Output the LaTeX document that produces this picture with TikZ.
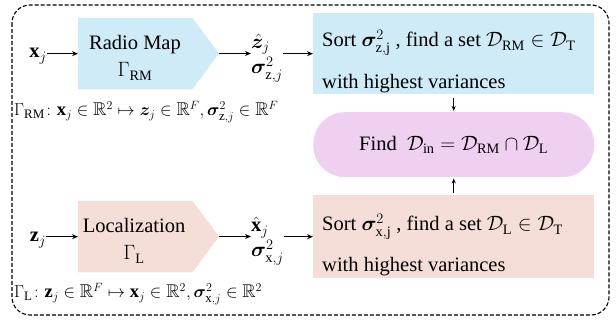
\documentclass[tikz,border=0pt]{standalone}
\usepackage{amsmath,amssymb,bm}
\usepackage{fontspec}
\setmainfont{Liberation Serif}
\usetikzlibrary{arrows.meta}
\definecolor{rmblue}{RGB}{207,235,247}
\definecolor{lpink}{RGB}{246,222,216}
\definecolor{pillc}{RGB}{240,208,240}
\begin{document}
\begin{tikzpicture}[x=1pt,y=-1pt,
  font=\rmfamily\fontsize{20.5}{24}\selectfont,
  arr/.style={-{Stealth[length=6pt,width=5pt]}, line width=1.1pt},
  varr/.style={-{Stealth[length=5pt,width=4pt]}, line width=0.9pt},
  sortbox/.style={minimum width=281pt, minimum height=81pt, inner sep=0pt, anchor=north west},
  penta/.style={minimum width=114pt, minimum height=71pt, inner sep=0pt, anchor=north west},
  lbl/.style={inner sep=0pt, anchor=base west},
  ctr/.style={inner sep=0pt, anchor=base},
  outst/.style={inner sep=0pt, anchor=west, align=left},
  small/.style={font=\rmfamily\fontsize{18.5}{22}\selectfont},
  ]
\useasboundingbox (0,0) rectangle (616,320);
\draw[dash pattern=on 4pt off 2pt, line width=1.1pt, rounded corners=18pt] (12,5) rectangle (609,315);

% ---------- top row ----------
\node[ctr] (xj) at (38,58) {$\mathbf{x}_j$};
\node[penta] (rm) at (78,18) {};
\coordinate (rmtip) at (219,53.5);
\fill[rmblue] (rm.north west) -- (rm.north east) -- (rmtip) -- (rm.south east) -- (rm.south west) -- cycle;
\node[ctr] (rmt1) at (135,50) {Radio Map};
\node[ctr] (rmt2) at (135,77) {$\Gamma_{\mathrm{RM}}$};
\node[outst] (zout) at (251,58) {$\hat{\bm{z}}_j$\\[1pt]$\bm{\sigma}^2_{\mathrm{z},j}$};
\node[sortbox, fill=rmblue] (sortz) at (313,13) {};
\node[lbl] (sortz1) at (322,47) {Sort $\bm{\sigma}^2_{\mathrm{z,j}}$ , find a set $\mathcal{D}_{\mathrm{RM}}\in\mathcal{D}_{\mathrm{T}}$};
\node[lbl] (sortz2) at (322,89) {with highest variances};
\node[lbl, small] (grm) at (14,116) {$\Gamma_{\mathrm{RM}}\colon \mathbf{x}_j\in\mathbb{R}^2\mapsto \bm{z}_j\in\mathbb{R}^F, \bm{\sigma}^2_{\mathrm{z},j}\in\mathbb{R}^F$};

\draw[arr] (xj.east |- rm.west) -- (rm.west);
\draw[arr] (rmtip) -- (rmtip -| zout.west);
\draw[arr] (zout.east |- sortz.west) -- (sortz.west);

% ---------- middle ----------
\node[fill=pillc, rounded corners=32pt, minimum width=281pt, minimum height=65pt, inner sep=0pt, anchor=north west] (pill) at (313,112) {Find~ $\mathcal{D}_{\mathrm{in}} = \mathcal{D}_{\mathrm{RM}}\cap\mathcal{D}_{\mathrm{L}}$};

% ---------- bottom row ----------
\node[ctr] (zj) at (38,242) {$\mathbf{z}_j$};
\node[penta] (loc) at (78,201) {};
\coordinate (loctip) at (219,236.5);
\fill[lpink] (loc.north west) -- (loc.north east) -- (loctip) -- (loc.south east) -- (loc.south west) -- cycle;
\node[ctr] (loct1) at (134,233) {Localization};
\node[ctr] (loct2) at (134,260) {$\Gamma_{\mathrm{L}}$};
\node[outst] (xout) at (251,241) {$\hat{\mathbf{x}}_j$\\[1pt]$\bm{\sigma}^2_{\mathrm{x},j}$};
\node[sortbox, fill=lpink, minimum height=83pt] (sortx) at (313,195) {};
\node[lbl] (sortx1) at (322,231) {Sort $\bm{\sigma}^2_{\mathrm{x,j}}$ , find a set $\mathcal{D}_{\mathrm{L}}\in\mathcal{D}_{\mathrm{T}}$};
\node[lbl] (sortx2) at (322,272) {with highest variances};
\node[lbl, small] (gl) at (14,298) {$\Gamma_{\mathrm{L}}\colon \mathbf{z}_j\in\mathbb{R}^F\mapsto \mathbf{x}_j\in\mathbb{R}^2, \bm{\sigma}^2_{\mathrm{x},j}\in\mathbb{R}^2$};

\draw[arr] (zj.east |- loc.west) -- (loc.west);
\draw[arr] (loctip) -- (loctip -| xout.west);
\draw[arr] (xout.east |- sortx.west) -- (sortx.west);

% ---------- vertical arrows ----------
\draw[varr, shorten <=4pt, shorten >=1pt] (sortz.south) -- (pill.north);
\draw[varr, shorten <=2pt, shorten >=1pt] (sortx.north) -- (pill.south);
\end{tikzpicture}
\end{document}
